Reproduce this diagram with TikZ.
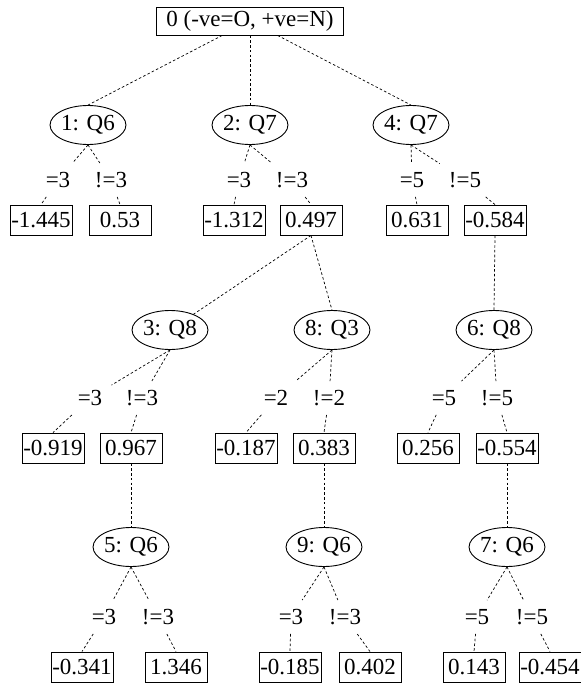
\documentclass[tikz,border=0pt]{standalone}
\usepackage{fontspec}
\setmainfont{Liberation Serif}
\usetikzlibrary{shapes.geometric}

\begin{document}
\begin{tikzpicture}[x=1pt, y=-1pt,
  every node/.style={font=\fontsize{23}{27}\selectfont},
  rootbox/.style={draw, line width=0.9pt, inner xsep=10pt, minimum height=28pt},
  splitnode/.style={draw, ellipse, line width=0.9pt, inner sep=0pt, minimum width=74pt, minimum height=39pt},
  leafbox/.style={draw, line width=0.9pt, inner sep=1pt, minimum width=62pt, minimum height=30pt},
  cond/.style={inner sep=9pt},
  link/.style={line width=0.7pt, dash pattern=on 2.6pt off 2.2pt}]
\useasboundingbox (0,0) rectangle (581,686);

% Root and first splitters
\node[rootbox] (root) at (250,21) {0 (-ve=O, +ve=N)};
\node[splitnode] (n1) at (88,125) {1: Q6};
\node[splitnode] (n2) at (250,125) {2: Q7};
\node[splitnode] (n4) at (411,125) {4: Q7};
\draw[link] (root) -- (n1.north);
\draw[link] (root) -- (n2.north);
\draw[link] (root) -- (n4.north);

% Conditions and leaves, first level
\node[cond] (c1a) at (58,180) {=3};
\node[cond] (c1b) at (111,180) {!=3};
\node[cond] (c2a) at (239,180) {=3};
\node[cond] (c2b) at (292,180) {!=3};
\node[cond] (c4a) at (412,180) {=5};
\node[cond] (c4b) at (465,180) {!=5};
\node[leafbox] (l1a) at (41,220) {-1.445};
\node[leafbox] (l1b) at (120,220) {0.53};
\node[leafbox] (l2a) at (234,220) {-1.312};
\node[leafbox] (l2b) at (311,220) {0.497};
\node[leafbox] (l4a) at (417,220) {0.631};
\node[leafbox] (l4b) at (495,220) {-0.584};
\draw[link] (n1.south) -- (c1a) (c1a) -- (l1a.north);
\draw[link] (n1.south) -- (c1b) (c1b) -- (l1b.north);
\draw[link] (n2.south) -- (c2a) (c2a) -- (l2a.north);
\draw[link] (n2.south) -- (c2b) (c2b) -- (l2b.north);
\draw[link] (n4.south) -- (c4a) (c4a) -- (l4a.north);
\draw[link] (n4.south) -- (c4b) (c4b) -- (l4b.north);

% Second splitters
\node[splitnode] (n3) at (170,330) {3: Q8};
\node[splitnode] (n8) at (332,330) {8: Q3};
\node[splitnode] (n6) at (494,330) {6: Q8};
\draw[link] (l2b.south) -- (n3);
\draw[link] (l2b.south) -- (n8.north);
\draw[link] (l4b.south) -- (n6.north);

\node[cond] (c3a) at (90,398) {=3};
\node[cond] (c3b) at (142,398) {!=3};
\node[cond] (c8a) at (276,398) {=2};
\node[cond] (c8b) at (329,398) {!=2};
\node[cond] (c6a) at (444,398) {=5};
\node[cond] (c6b) at (497,398) {!=5};
\node[leafbox] (l3a) at (53,448) {-0.919};
\node[leafbox] (l3b) at (131,448) {0.967};
\node[leafbox] (l8a) at (246,448) {-0.187};
\node[leafbox] (l8b) at (324,448) {0.383};
\node[leafbox] (l6a) at (428,448) {0.256};
\node[leafbox] (l6b) at (507,448) {-0.554};
\draw[link] (n3.south) -- (c3a) (c3a) -- (l3a.north);
\draw[link] (n3.south) -- (c3b) (c3b) -- (l3b.north);
\draw[link] (n8.south) -- (c8a) (c8a) -- (l8a.north);
\draw[link] (n8.south) -- (c8b) (c8b) -- (l8b.north);
\draw[link] (n6.south) -- (c6a) (c6a) -- (l6a.north);
\draw[link] (n6.south) -- (c6b) (c6b) -- (l6b.north);

% Third splitters
\node[splitnode] (n5) at (131,547) {5: Q6};
\node[splitnode] (n9) at (324,547) {9: Q6};
\node[splitnode] (n7) at (507,547) {7: Q6};
\draw[link] (l3b) -- (n5);
\draw[link] (l8b) -- (n9);
\draw[link] (l6b) -- (n7);

\node[cond] (c5a) at (104,617) {=3};
\node[cond] (c5b) at (158,617) {!=3};
\node[cond] (c9a) at (291,617) {=3};
\node[cond] (c9b) at (345,617) {!=3};
\node[cond] (c7a) at (477,617) {=5};
\node[cond] (c7b) at (532,617) {!=5};
\node[leafbox] (l5a) at (82,667) {-0.341};
\node[leafbox] (l5b) at (176,667) {1.346};
\node[leafbox] (l9a) at (290,667) {-0.185};
\node[leafbox] (l9b) at (370,667) {0.402};
\node[leafbox] (l7a) at (474,667) {0.143};
\node[leafbox] (l7b) at (550,667) {-0.454};
\draw[link] (n5.south) -- (c5a) (c5a) -- (l5a.north);
\draw[link] (n5.south) -- (c5b) (c5b) -- (l5b.north);
\draw[link] (n9.south) -- (c9a) (c9a) -- (l9a.north);
\draw[link] (n9.south) -- (c9b) (c9b) -- (l9b.north);
\draw[link] (n7.south) -- (c7a) (c7a) -- (l7a.north);
\draw[link] (n7.south) -- (c7b) (c7b) -- (l7b.north);
\end{tikzpicture}
\end{document}
